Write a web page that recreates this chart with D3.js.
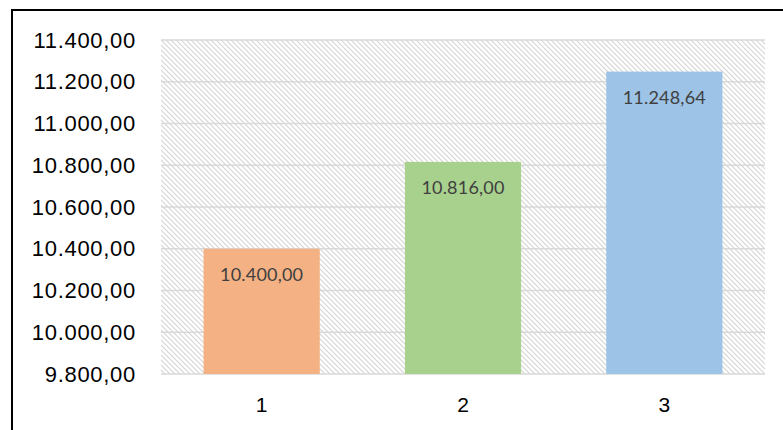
<!DOCTYPE html>
<html>
<head>
<meta charset="utf-8">
<script src="https://cdn.jsdelivr.net/npm/d3@7"></script>
<style>
  body { margin: 0; background: #fff; }
  svg { display: block; font-family: Lato, "Open Sans", sans-serif; }
</style>
</head>
<body>
<div id="chart"></div>
<script>
// Chart data
const categories = ["1", "2", "3"];
const values = [10400.00, 10816.00, 11248.64];
const barColors = ["#F4B183", "#A9D18E", "#9DC3E6"];
const yTicks = [9800, 10000, 10200, 10400, 10600, 10800, 11000, 11200, 11400];

const W = 783, H = 430;
const margin = {top: 40, right: 18, bottom: 56, left: 161},
      width = W - margin.left - margin.right,
      height = H - margin.top - margin.bottom;

// number format like 11.400,00
const fmt = d3.formatLocale({decimal: ",", thousands: ".", grouping: [3], currency: ["", ""]}).format(",.2f");

const svg = d3.select("#chart")
    .append("svg")
    .attr("width", W)
    .attr("height", H);

// hatch pattern for plot background (light downward diagonal)
const defs = svg.append("defs");
const pat = defs.append("pattern")
    .attr("id", "hatch")
    .attr("patternUnits", "userSpaceOnUse")
    .attr("width", 5)
    .attr("height", 5);
pat.append("rect").attr("width", 5).attr("height", 5).attr("fill", "#fff");
pat.append("path")
    .attr("d", "M-1,-1 L6,6 M-1,4 L1,6 M4,-1 L6,1")
    .attr("stroke", "#d6d6d6")
    .attr("stroke-width", 1.2);

// outer frame
svg.append("rect")
    .attr("x", 12).attr("y", 10)
    .attr("width", W + 10).attr("height", H + 10)
    .attr("fill", "none")
    .attr("stroke", "#000")
    .attr("stroke-width", 2);

const g = svg.append("g")
    .attr("transform", `translate(${margin.left},${margin.top})`);

const x = d3.scaleBand()
    .domain(categories)
    .range([0, width])
    .paddingInner(0.423)
    .paddingOuter(0.2115);

const y = d3.scaleLinear()
    .domain([9800, 11400])
    .range([height, 0]);

// plot background
g.append("rect")
    .attr("width", width)
    .attr("height", height)
    .attr("fill", "url(#hatch)");

// gridlines
g.selectAll(".grid")
    .data(yTicks)
    .enter()
    .append("line")
    .attr("x1", 0)
    .attr("x2", width)
    .attr("y1", d => y(d))
    .attr("y2", d => y(d))
    .attr("stroke", "#d9d9d9")
    .attr("stroke-width", 1.5);

// Y axis labels
const yAxis = g.append("g")
    .call(d3.axisLeft(y).tickValues(yTicks).tickFormat(fmt).tickSize(0).tickPadding(25));
yAxis.select(".domain").remove();
yAxis.selectAll("text")
    .attr("fill", "#000")
    .style("font-size", "22px")
    .style("letter-spacing", "0.7px");

// X axis labels
const xAxis = g.append("g")
    .attr("transform", `translate(0,${height})`)
    .call(d3.axisBottom(x).tickSize(0).tickPadding(23));
xAxis.select(".domain").remove();
xAxis.selectAll("text")
    .attr("fill", "#000")
    .style("font-size", "21px");

// bars
g.selectAll(".bar")
    .data(values)
    .enter()
    .append("rect")
    .attr("x", (d, i) => x(categories[i]))
    .attr("y", d => y(d))
    .attr("width", x.bandwidth())
    .attr("height", d => height - y(d))
    .attr("fill", (d, i) => barColors[i]);

// value labels
g.selectAll(".lbl")
    .data(values)
    .enter()
    .append("text")
    .attr("x", (d, i) => x(categories[i]) + x.bandwidth() / 2)
    .attr("y", d => y(d) + 32)
    .attr("text-anchor", "middle")
    .attr("fill", "#404040")
    .style("font-size", "18px")
    .style("letter-spacing", "0.2px")
    .text(d => fmt(d));
</script>
</body>
</html>
